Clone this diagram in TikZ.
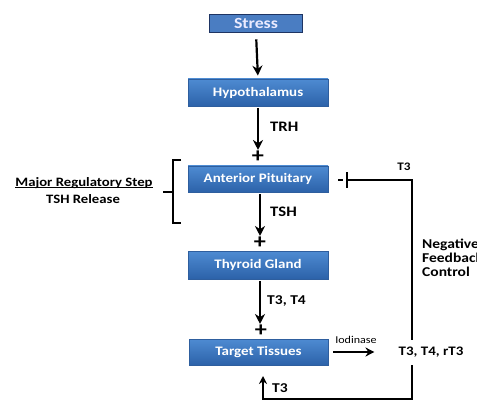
\documentclass[tikz,border=0pt]{standalone}
\usepackage{fontspec}
\setmainfont{Carlito}[FakeStretch=1.15]
\usetikzlibrary{arrows.meta,calc}
\definecolor{boxtop}{HTML}{4E8BD2}
\definecolor{boxbot}{HTML}{2C62A9}
\definecolor{boxline}{HTML}{2E5E9E}
\definecolor{stressfill}{HTML}{4A7DC2}
\definecolor{stressline}{HTML}{1E3463}
\tikzset{
  bluebox/.style={rectangle, top color=boxtop, bottom color=boxbot, draw=boxline, line width=0.8pt,
    minimum width=140pt, minimum height=27pt, inner sep=0pt, text=white,
    font=\bfseries\fontsize{13}{14}\selectfont},
  stressbox/.style={rectangle, fill=stressfill, draw=stressline, line width=1.6pt,
    minimum width=93pt, minimum height=18pt, inner sep=0pt, text=white!92!blue,
    font=\bfseries\fontsize{15.5}{16}\selectfont},
  arr/.style={line width=2.2pt, -{Stealth[length=10pt,width=10pt]}},
  fb/.style={line width=1.8pt},
  lbl/.style={font=\bfseries\fontsize{13.5}{15}\selectfont, inner sep=0pt, anchor=west},
  plus/.style={font=\bfseries\fontsize{21}{21}\selectfont, inner sep=0pt},
}
\begin{document}
\begin{tikzpicture}[x=1pt,y=-1pt]
\useasboundingbox (0,0) rectangle (477,401);
\clip (0,0) rectangle (477,401);
% boxes
\node[stressbox] (stress) at (256,23.5) {Stress};
\node[bluebox] (hyp) at (258,92.5) {Hypothalamus};
\node[bluebox, minimum height=26pt] (ap) at (258,179) {Anterior Pituitary};
\node[bluebox, minimum height=28pt] (tg) at (258,265) {Thyroid Gland};
\node[bluebox, minimum width=139pt, minimum height=26pt] (tt) at (258.5,352) {Target Tissues};
% plus signs
\node[plus] (p1) at (258,157) {+};
\node[plus] (p2) at (260,243) {+};
\node[plus] (p3) at (261,331) {+};
% main arrows
\draw[arr, shorten <=6pt, shorten >=3pt] (stress.south) -- (hyp.north);
\draw[arr, shorten <=2pt, shorten >=1pt] (hyp.south) -- (p1.north);
\draw[arr, shorten <=2pt, shorten >=1pt] (ap.south -| p2) -- (p2.north);
\draw[arr, shorten <=2pt, shorten >=1pt] (tg.south -| p2) -- (p2.north |- p3.north);
% labels
\node[lbl, font=\bfseries\fontsize{14.5}{15}\selectfont] (trh) at (270,127) {TRH};
\node[lbl, font=\bfseries\fontsize{14.5}{15}\selectfont] (tsh) at (270,212) {TSH};
\node[lbl] (t34) at (267,301) {T3, T4};
% bracket and side text
\draw[line width=1.2pt] (181,160) -- (173,160) -- (173,223) -- (181,223);
\draw[line width=1.2pt] (163,192) -- (173,192);
\node[font=\bfseries\fontsize{12.8}{14}\selectfont, inner sep=0pt] (major) at (84,183) {Major Regulatory Step};
\draw[line width=1pt] ([yshift=1.5pt]major.south west) -- ([yshift=1.5pt]major.south east);
\node[font=\bfseries\fontsize{12.8}{14}\selectfont, inner sep=0pt] (tshrel) at (83,199) {TSH Release};
% iodinase
\node[font=\bfseries\fontsize{13}{14}\selectfont, inner sep=0pt] (rt) at (431,352) {T3, T4, rT3};
\node[font=\fontsize{10.5}{12}\selectfont, inner sep=0pt] (iod) at (356,340) {Iodinase};
\draw[line width=1.7pt, -{Stealth[length=9pt,width=9pt]}] ([xshift=5pt]tt.east) -- ([xshift=-24pt]rt.west);
% negative feedback
\coordinate (fbtop) at (412,180);
\coordinate (fbbot) at (412,399);
\coordinate (bar) at (346,180);
\coordinate (ttin) at (263,365);
\draw[line width=2.2pt] (338,180) -- (343,180);
\node[font=\bfseries\fontsize{11.5}{12}\selectfont, inner sep=0pt] (t3top) at (404,167) {T3};
\draw[fb, -{Bar[width=16pt,line width=1.8pt]}] ([yshift=7pt]rt.north -| fbtop) -- (fbtop) -- (bar);
\draw[fb, -{Stealth[length=8pt,width=8pt]}, shorten >=11pt] ([yshift=-8pt]rt.south -| fbbot) -- (fbbot) -| (ttin);
\node[lbl] (t3bot) at (272,388) {T3};
\node[font=\bfseries\fontsize{13.5}{14}\selectfont, inner sep=0pt, anchor=north west, align=left] (nfc) at (422,239) {Negative\\Feedback\\Control};
\end{tikzpicture}
\end{document}
